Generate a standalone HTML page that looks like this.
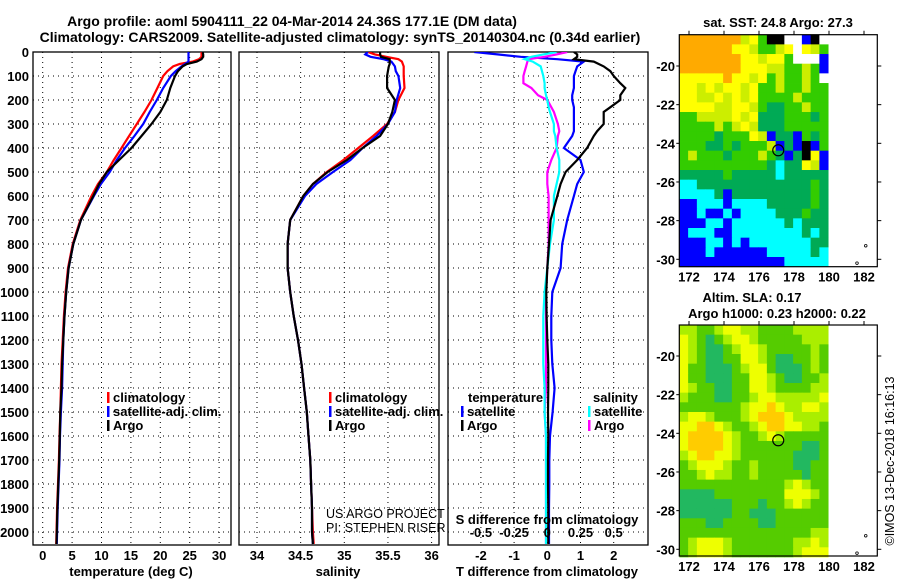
<!DOCTYPE html>
<html><head><meta charset="utf-8">
<style>
html,body{margin:0;padding:0;background:#fff;}
svg{display:block;font-family:"Liberation Sans",Arial,sans-serif;}
.b{font-weight:bold;font-size:13px;}
.t{font-weight:bold;font-size:14px;}
.n{font-size:12.5px;}
</style></head>
<body>
<svg id="fig" width="900" height="580" viewBox="0 0 900 580">
<defs>
<clipPath id="c1"><rect x="33" y="52" width="198" height="493"/></clipPath>
<clipPath id="c2"><rect x="239" y="52" width="200" height="493"/></clipPath>
<clipPath id="c3"><rect x="448" y="52" width="200" height="493"/></clipPath>
</defs>
<text class="t" x="292" y="26" text-anchor="middle">Argo profile: aoml 5904111_22 04-Mar-2014 24.36S 177.1E (DM data)</text>
<text class="t" x="340" y="42" text-anchor="middle">Climatology: CARS2009. Satellite-adjusted climatology: synTS_20140304.nc (0.34d earlier)</text>
<g id="root"></g>
</svg>
<script>
// ---- profile data ----
const depths=[0,10,20,30,40,50,60,80,100,150,200,250,300,350,400,450,500,550,600,700,800,900,1000,1100,1200,1300,1400,1500,1600,1700,1800,1900,2000,2050];
const tempArgo=[27.2,27.3,27.3,27.0,26.2,24.5,23.8,23.0,22.5,21.7,21.1,20.0,18.5,16.8,15.1,13.0,10.9,9.6,8.6,6.5,5.2,4.4,4.0,3.7,3.5,3.3,3.2,3.0,2.9,2.8,2.65,2.5,2.4,2.35];
const tempClim=[27.0,27.0,27.0,26.6,25.5,23.3,22.2,21.2,20.5,19.5,18.5,17.3,16.0,14.7,13.4,12.1,10.9,9.4,8.3,6.4,5.1,4.3,3.9,3.6,3.4,3.2,3.1,3.0,2.85,2.75,2.6,2.45,2.35,2.3];
const tempSat=[24.8,24.8,24.8,24.8,24.8,24.2,23.6,22.6,21.8,20.5,19.4,18.2,17.1,15.6,14.0,12.6,11.4,9.9,8.7,6.5,5.2,4.4,4.0,3.7,3.5,3.4,3.3,3.1,2.95,2.85,2.7,2.55,2.45,2.4];
const salArgo=[35.41,35.41,35.42,35.52,35.52,35.52,35.51,35.50,35.49,35.49,35.58,35.55,35.50,35.41,35.21,35.03,34.81,34.64,34.53,34.38,34.35,34.35,34.38,34.42,34.47,34.51,34.54,34.57,34.59,34.61,34.62,34.63,34.63,34.64];
const salClim=[35.27,35.35,35.48,35.62,35.66,35.67,35.68,35.68,35.68,35.69,35.62,35.58,35.49,35.33,35.16,34.99,34.80,34.64,34.53,34.38,34.35,34.35,34.38,34.42,34.47,34.51,34.54,34.57,34.59,34.61,34.62,34.63,34.64,34.65];
const salSat=[35.27,35.24,35.30,35.45,35.54,35.56,35.58,35.59,35.62,35.64,35.60,35.58,35.50,35.37,35.21,35.07,34.87,34.68,34.55,34.38,34.35,34.35,34.38,34.42,34.47,34.51,34.54,34.57,34.59,34.61,34.62,34.63,34.63,34.64];
const diffDepths=[0,10,20,30,40,60,80,100,130,150,180,200,230,250,300,330,350,400,450,500,550,600,700,800,900,1000,1100,1200,1300,1400,1500,1600,1700,1800,1900,2000,2050];
const tDiffSat=[-2.2,-1.5,-0.8,0.3,1.1,0.9,0.85,0.8,0.8,0.8,0.75,0.75,0.8,0.8,0.8,0.8,0.75,0.5,1.0,1.1,0.9,0.8,0.6,0.45,0.4,0.15,0.12,0.12,0.15,0.22,0.16,0.08,0.06,0.06,0.05,0.05,0.05];
const tDiffArgo=[0.8,0.9,0.9,0.8,1.4,1.7,1.9,2.0,2.2,2.35,2.2,2.2,1.9,1.7,1.7,1.5,1.4,1.2,0.9,0.55,0.4,0.3,0.1,0.05,0,-0.03,-0.02,0,0.03,0.03,0.02,0.03,0.02,0.02,0.03,0.03,0.03];
const sDiffSat=[0.07,-0.03,-0.12,-0.17,-0.11,-0.05,-0.04,-0.03,-0.02,-0.02,-0.01,0,0.01,0.02,0.05,0.05,0.06,0.07,0.09,0.09,0.07,0.05,0.05,0.02,0,-0.02,-0.03,-0.03,-0.03,-0.02,-0.02,-0.01,-0.01,-0.01,-0.01,-0.01,-0.01];
const sDiffArgo=[0.15,0.07,-0.02,-0.14,-0.15,-0.16,-0.17,-0.18,-0.18,-0.12,-0.07,0,0.03,0.05,0.08,0.09,0.08,0.07,0.03,0,0,0.01,0.01,0.01,0,-0.01,-0.01,-0.01,-0.01,-0.01,-0.02,-0.01,-0.01,-0.01,-0.01,-0.01,-0.01];
const depthTicks=[0,100,200,300,400,500,600,700,800,900,1000,1100,1200,1300,1400,1500,1600,1700,1800,1900,2000];
const tempTicks=[0,5,10,15,20,25,30];
const salTicks=[34,34.5,35,35.5,36];
const tDiffTicks=[-2,-1,0,1,2];
const sDiffTicks=[-0.5,-0.25,0,0.25,0.5];
// ---- map data (0.5 deg cells, rows from north) ----
const sstGrid=["OOOOOOOLYGKKWWBKW","OOOOOOYYLGGLYWYLG","OOOOOOOYYLYYGWWWB","OOOOOOOYYYLLGGLGB","YYYYYOYYLYGLGGLGW","YYLYLYYLYGGLGGLGG","YYLLYLYLYGGGGLGGG","YYYYLLYYLGDDGGLGG","GGLLLLYLYDDDGGGDG","GGGGLGLYLDDDGGGGG","GGGGDGGGYLBDDBGDG","GGGDDGDGGGLBDBKBG","GLGGGDGGGLGDBDKYB","GGGGGGGGGGDCDDYLB","DDDDDGDDDDDCDDDDD","CCDDDDDDDDDDDDDGD","CCCCDBDDDDDDDDDGD","BBCCCBCCCCDDDDDGD","BBCBBCBCCCCDDDGDD","BBBCCBCCCCCCDCDDD","BCCCBBCCCCCCCCDCD","BBBCCBCBCCCCCCCDD","BBBCBBBBBBCCCCCDC","BBBBBBBBBBBBCCCCC"];
const slaGrid=["LLGGLYYLLGGGGLLLL","YLGDGLYYLGGGGGLLL","YLGDDGLYYLGGGGGLG","YLGDDGGYYLGDDGGLG","YGGDDDGLYYGDDDGLG","YGGDDDGGYYLGDDGGL","YLGGDDGGYYLGGGGLL","LGGGDDGGLYYLLLLLY","GGGGGGGLYYOYLLYYL","LYYLGGGLYOOOYLLLL","YYOOYLGGLYOOYYLLG","YOOOOYLGGLYLGGGGG","YOOOOYLGGGGGGGDDG","LYOOYYLGGGGGGDDDG","GLYYYLGGLGGGGDDGG","GGLYLLGGLGGGGGDGG","GGGGGGGGGGGGLYLGG","DDDDGGGGGGGGYYYLG","DDDDDDGGGDGGLYLGG","DDDDDDGGDDDGGGGGG","GGGDDGGGGDDGGGGGG","GGGGGGGGGGGGGGGLL","GLYYYLGGGGGGGLLYL","GLYYYLGGGGGGGLYYY"];
const lonTicks=[172,174,176,178,180,182];
const latTicks=[-20,-22,-24,-26,-28,-30];
const argoPos=[177.1,-24.36];

const NS="http://www.w3.org/2000/svg";
const root=document.getElementById('root');
function mk(tag,at,parent){const e=document.createElementNS(NS,tag);for(const k in at)e.setAttribute(k,at[k]);(parent||root).appendChild(e);return e;}
const yD=d=>52+d*0.24;
const xT=v=>42.7+v*5.88;
const xS=v=>257+(v-34)*87.3;
const xTd=v=>547.3+v*33.2;
const xSd=v=>547.3+v*132.8;

function frame(x0,x1,name){
  const r=mk('rect',{x:x0,y:52,width:x1-x0,height:493,fill:'none',stroke:'#000','stroke-width':1.3});
  
  
  depthTicks.forEach(d=>{
    const l=mk('line',{x1:x0,x2:x1,y1:yD(d),y2:yD(d),stroke:'#000','stroke-width':1,'stroke-dasharray':'1,4'});
    
    
  });
}
function vgrid(ticks,fx,name,labels){
  ticks.forEach(t=>{
    const l=mk('line',{x1:fx(t),x2:fx(t),y1:52,y2:545,stroke:'#000','stroke-width':1,'stroke-dasharray':'1,4'});
    
    
    if(labels){
      const tx=mk('text',{x:fx(t),y:560,'text-anchor':'middle',class:'b'});
      tx.textContent=String(t);
      
      
    }
  });
}
function line(xs,ds,fx,color,clip,name){
  const pts=xs.map((v,i)=>fx(v).toFixed(1)+','+yD(ds[i]).toFixed(1)).join(' ');
  const p=mk('polyline',{points:pts,fill:'none',stroke:color,'stroke-width':2.2,'clip-path':'url(#'+clip+')'});
  
  
}
function txt(s,x,y,cls,anchor,name){
  const t=mk('text',{x:x,y:y,class:cls,'text-anchor':anchor||'start'});
  t.textContent=s;
  
  
  return t;
}
function legend(items,x,y,name){
  items.forEach((it,i)=>{
    const r=mk('rect',{x:x,y:y+i*14-10,width:2.5,height:11,fill:it[1]});
    
    
    txt(it[0],x+6,y+i*14,'b','start',name+'-entry');
  });
}

// panel 1
frame(33,231,'temperature-panel');
vgrid(tempTicks,xT,'temperature',true);
depthTicks.forEach(d=>txt(String(d),29,yD(d)+5,'b','end','depth-tick-label'));
line(tempClim,depths,xT,'#ff0000','c1','temp-climatology-line');
line(tempSat,depths,xT,'#0000ff','c1','temp-satellite-line');
line(tempArgo,depths,xT,'#000000','c1','temp-argo-line');
txt('temperature (deg C)',131,576,'b','middle','temperature-axis-title');
legend([['climatology','#ff0000'],['satellite-adj. clim.','#0000ff'],['Argo','#000000']],107,402,'temp-legend');

// panel 2
frame(239,439,'salinity-panel');
vgrid(salTicks,xS,'salinity',true);
line(salClim,depths,xS,'#ff0000','c2','sal-climatology-line');
line(salSat,depths,xS,'#0000ff','c2','sal-satellite-line');
line(salArgo,depths,xS,'#000000','c2','sal-argo-line');
txt('salinity',338,576,'b','middle','salinity-axis-title');
legend([['climatology','#ff0000'],['satellite-adj. clim.','#0000ff'],['Argo','#000000']],329,402,'sal-legend');
txt('US ARGO PROJECT',326,518,'n','start','project-credit');
txt('PI: STEPHEN RISER',326,532,'n','start','pi-credit');

// panel 3
frame(448,648,'difference-panel');
vgrid(tDiffTicks,xTd,'t-difference',true);
line(tDiffSat,diffDepths,xTd,'#0000ff','c3','t-diff-satellite-line');
line(sDiffArgo,diffDepths,xSd,'#ff00ff','c3','s-diff-argo-line');
line(sDiffSat,diffDepths,xSd,'#00ffff','c3','s-diff-satellite-line');
line(tDiffArgo,diffDepths,xTd,'#000000','c3','t-diff-argo-line');
txt('T difference from climatology',547,576,'b','middle','t-difference-axis-title');
txt('S difference from climatology',547,524,'b','middle','s-difference-axis-title');
sDiffTicks.forEach(t=>txt(String(t),xSd(t),537,'b','middle','s-difference-tick-label'));
txt('temperature',468,402,'b','start','t-legend-title');
legend([['satellite','#0000ff'],['Argo','#000000']],461,416,'t-diff-legend');
txt('salinity',593,402,'b','start','s-legend-title');
legend([['satellite','#00ffff'],['Argo','#ff00ff']],588,416,'s-diff-legend');

// maps
const sstCol={O:'#ffaa00',Y:'#ffff00',L:'#ccee00',G:'#33cc00',D:'#00aa55',C:'#00ffff',B:'#0000ff',K:'#000000',W:'#ffffff'};
const slaCol={O:'#ffcc00',Y:'#eeff00',L:'#aaee00',G:'#55cc00',D:'#22b860'};
function drawMap(grid,cols,y0,y1,lat20y,lat30y,name){
  const x0=679.3,x1=877.3;
  const fx=lon=>689+(lon-172)*17.5;
  const py=(lat30y-lat20y)/10;
  const fy=lat=>lat20y+(-20-lat)*py;
  const topLat=-20+(lat20y-y0)/py;
  const g=mk('g',{});
  
  
  grid.forEach((row,r)=>{
    for(let c=0;c<row.length;c++){
      const lon=171.45+c*0.5, lat=topLat-r*0.5;
      const col=cols[row[c]];
      const cell=mk('rect',{x:fx(lon).toFixed(2),y:fy(lat).toFixed(2),width:(0.5*17.5+0.4).toFixed(2),height:(0.5*py+0.4).toFixed(2),fill:col},g);
      
      
    }
  });
  const fr=mk('rect',{x:x0,y:y0,width:x1-x0,height:y1-y0,fill:'none',stroke:'#000','stroke-width':1.2});
  
  
  lonTicks.forEach(l=>{
    const tk=mk('line',{x1:fx(l),x2:fx(l),y1:y0-4,y2:y0,stroke:'#000'});
    
    
    txt(String(l),fx(l),y1+15,'b','middle','lon-tick-label');
  });
  latTicks.forEach(l=>{
    const tk=mk('line',{x1:x1,x2:x1+4,y1:fy(l),y2:fy(l),stroke:'#000'});
    
    
    const tk2=mk('line',{x1:x0-3,x2:x0,y1:fy(l),y2:fy(l),stroke:'#000'});
    
    
    txt(String(l),675,fy(l)+5,'b','end','lat-tick-label');
  });
  const c=mk('circle',{cx:fx(argoPos[0]),cy:fy(argoPos[1]),r:5.5,fill:'none',stroke:'#000','stroke-width':1.2});
  
  
  [[182.1,-29.3],[181.6,-30.2]].forEach(p=>{
    const s=mk('circle',{cx:fx(p[0]),cy:fy(p[1]),r:1.3,fill:'none',stroke:'#000','stroke-width':0.8});
    
    
  });
}
drawMap(sstGrid,sstCol,34.7,266.7,66,259.3,'sst-map');
txt('sat. SST: 24.8 Argo: 27.3',778,27,'b','middle','sst-map-title');
drawMap(slaGrid,slaCol,325,556,356,549.3,'sla-map');
txt('Altim. SLA: 0.17',752,302,'b','middle','sla-map-title');
txt('Argo h1000: 0.23 h2000: 0.22',777,318,'b','middle','sla-map-subtitle');
const cr=txt('©IMOS 13-Dec-2018 16:16:13',0,0,'n','middle','imos-credit');
cr.setAttribute('transform','translate(894,461) rotate(-90)');
cr.setAttribute('font-size','13');
</script>
</body></html>
